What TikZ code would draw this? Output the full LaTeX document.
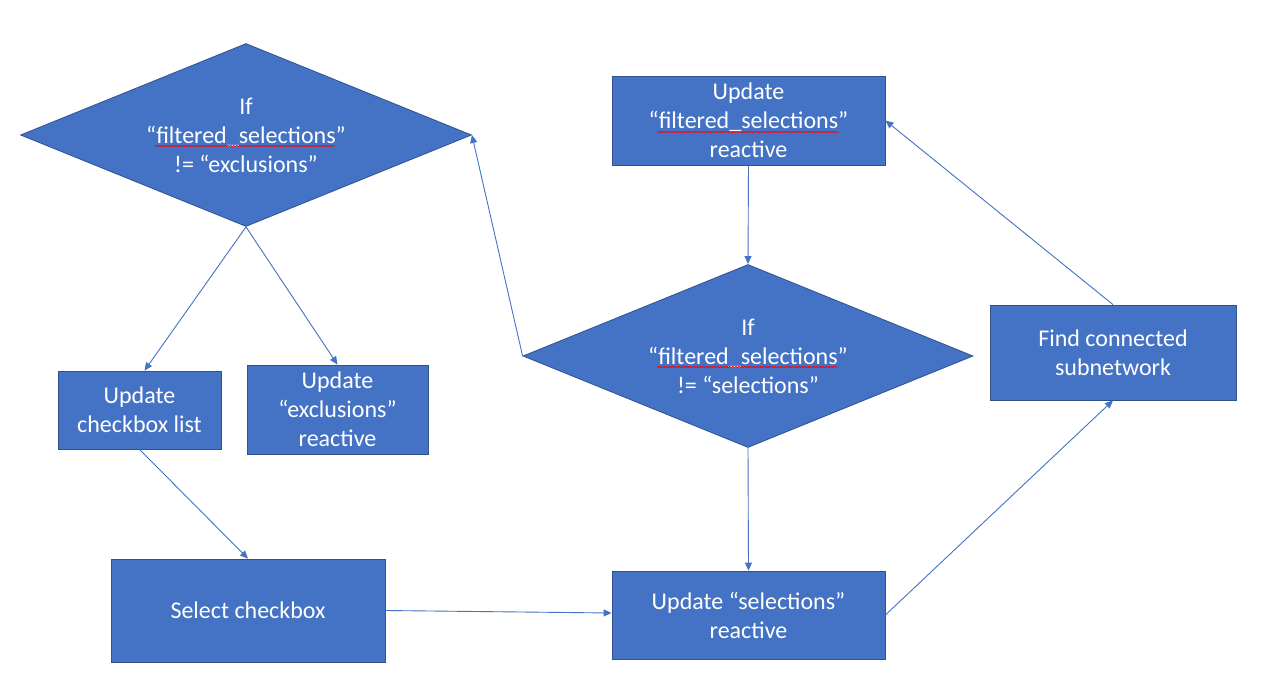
\documentclass[tikz,border=0pt]{standalone}
\usepackage{fontspec}
\setmainfont{Carlito}
\usetikzlibrary{shapes.geometric,arrows.meta,decorations.pathmorphing}
\definecolor{boxblue}{HTML}{4472C4}
\definecolor{boxedge}{HTML}{2F528F}
\definecolor{lineblue}{HTML}{4472C4}
\tikzset{
  box/.style={draw=boxedge, fill=boxblue, line width=0.8pt, text=white, align=center,
    inner sep=0pt, font=\fontsize{24}{29}\selectfont},
  dia/.style={box, diamond, aspect=2.46},
  conn/.style={draw=lineblue, line width=0.9pt, -{Triangle[length=8pt,width=7pt]}},
  squig/.style={draw=red, line width=0.7pt, decorate, decoration={snake, segment length=3pt, amplitude=0.7pt}}
}
\begin{document}
\begin{tikzpicture}[x=1pt,y=-1pt]
\useasboundingbox (0,0) rectangle (1267,688);
\fill[white] (0,0) rectangle (1267,688);

\node[dia, minimum width=451pt, minimum height=183pt] (d1) at (246,135) {If\\“filtered\_selections”\\!= “exclusions”};
\node[box, minimum width=273pt, minimum height=89pt] (filt) at (748.5,120.5) {Update\\“filtered\_selections”\\reactive};
\node[dia, minimum width=450pt, minimum height=183pt] (d2) at (748,356) {If\\“filtered\_selections”\\!= “selections”};
\node[box, minimum width=246pt, minimum height=95pt] (find) at (1113,352.5) {Find connected\\subnetwork};
\node[box, minimum width=163pt, minimum height=78pt] (cb) at (139.5,410) {Update\\checkbox list};
\node[box, minimum width=181pt, minimum height=89pt] (excl) at (337.5,409.5) {Update\\“exclusions”\\reactive};
\node[box, minimum width=274pt, minimum height=103pt] (sel) at (248,610.5) {Select checkbox};
\node[box, minimum width=273pt, minimum height=88pt] (upd) at (748.5,615) {Update “selections”\\reactive};

% spell-check squiggles
\draw[squig] ([shift={(-91,11)}]d1.center) -- ([shift={(89,11)}]d1.center);
\draw[squig] ([shift={(-91,11.5)}]filt.center) -- ([shift={(90,11.5)}]filt.center);
\draw[squig] ([shift={(-91,11)}]d2.center) -- ([shift={(89,11)}]d2.center);

\draw[conn] (d1.south) -- ([xshift=5pt]cb.north);
\draw[conn] (d1.south) -- (excl.north);
\draw[conn] (cb.south) -- (sel.north);
\draw[conn] (sel.east) -- ([yshift=2pt]upd.west);
\draw[conn] (d2.south) -- (upd.north);
\draw[conn] (upd.east) -- (find.south);
\draw[conn] (find.north) -- (filt.east);
\draw[conn] (filt.south) -- (d2.north);
\draw[conn] (d2.west) -- (d1.east);
\end{tikzpicture}
\end{document}
